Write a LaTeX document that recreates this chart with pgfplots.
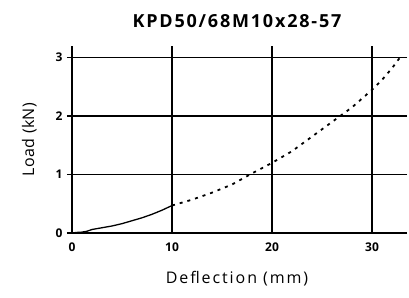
\documentclass[border=0pt]{standalone}
\usepackage{pgfplots}
\pgfplotsset{compat=1.18}
\usepackage{fontspec}
\setmainfont{Open Sans}
\begin{document}
\begin{tikzpicture}
\useasboundingbox (-72pt,-64pt) rectangle (337pt,233pt);
\begin{axis}[
  scale only axis,
  width=330pt, height=187pt,
  xmin=0, xmax=33, ymin=0, ymax=3.2,
  xtick={0,10,20,30}, ytick={0,1,2,3},
  axis line style={draw=none},
  grid=major,
  major grid style={black, line width=1.4pt},
  tick align=outside,
  major tick length=5pt,
  xtick style={draw=none},
  ytick style={black, line width=1.4pt},
  tick label style={font=\fontsize{12}{14}\selectfont\bfseries},
  /pgf/number format/assume math mode=true,
  xticklabel style={yshift=-1pt},
  yticklabel style={xshift=-1pt},
  title={\fontsize{18}{20}\selectfont\bfseries\addfontfeature{LetterSpace=10}KPD50/68M10x28-57},
  title style={yshift=9pt},
  xlabel={\addfontfeature{LetterSpace=12}Deflection (mm)},
  ylabel={\addfontfeature{LetterSpace=2}Load (kN)},
  label style={font=\fontsize{16}{18}\selectfont},
  xlabel style={yshift=-13pt},
  ylabel style={at={(ticklabel cs:0.5)}, anchor=south, yshift=12pt},
  clip=false,
]
\addplot[black, line width=1.3pt] coordinates {
(0,0) (0.5,0.01) (1,0.015) (1.5,0.03) (2,0.06) (3,0.09) (4,0.12) (5,0.16) (6,0.21) (7,0.26) (8,0.32) (9,0.39) (10,0.47)};
\addplot[black, line width=1.8pt, dash pattern=on 3pt off 5pt] coordinates {
(10,0.47) (12,0.57) (14,0.69) (16,0.83) (18,1.02) (20,1.2) (22,1.4) (24,1.65) (26,1.9) (28,2.15) (30,2.45) (31,2.62) (32,2.82) (33,3.05)};
\end{axis}
\end{tikzpicture}
\end{document}
